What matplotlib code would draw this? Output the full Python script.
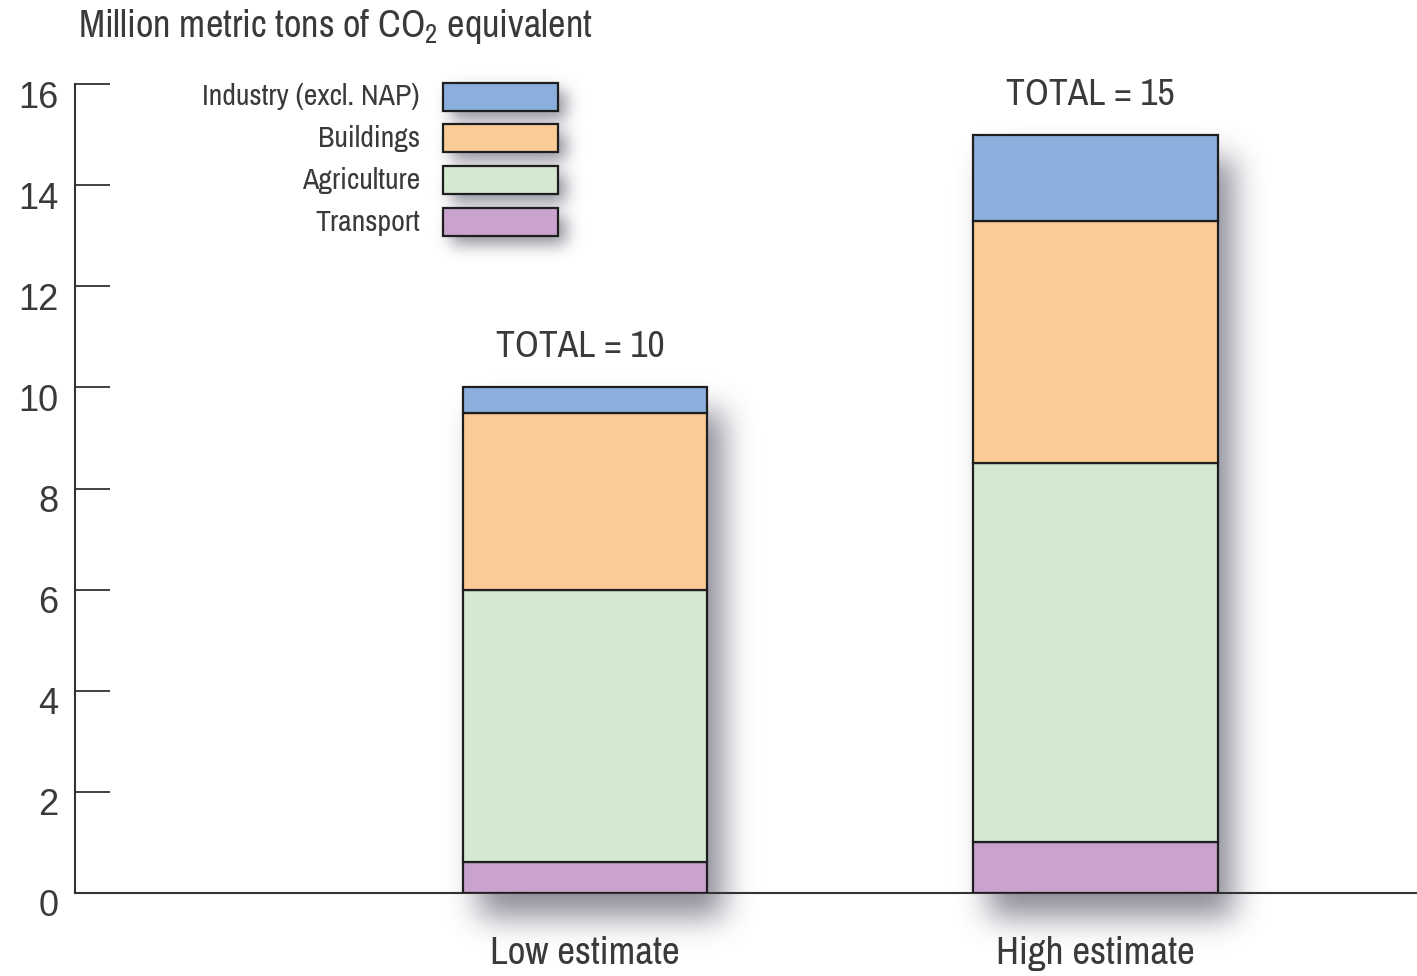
import math
import numpy as np
import matplotlib
matplotlib.use("Agg")
import matplotlib.pyplot as plt
from matplotlib.patches import Rectangle
import matplotlib.transforms as mtransforms

# data
estimates = ["Low estimate", "High estimate"]
sectors = ["Transport", "Agriculture", "Buildings", "Industry (excl. NAP)"]
transport = [0.62, 1.0]
agriculture = [5.38, 7.5]
buildings = [3.5, 4.8]
industry = [0.5, 1.7]
totals = [10, 15]
colors = ["#c9a3cd", "#d5e8d1", "#facb95", "#8aafdc"]

narrow = ["Liberation Sans Narrow", "Archivo Narrow", "DejaVu Sans"]
plt.rcParams["font.family"] = narrow
plt.rcParams["mathtext.fontset"] = "custom"
plt.rcParams["mathtext.rm"] = "Archivo Narrow"
txt = "#3a3a3a"

fig = plt.figure(figsize=(14.17, 9.76), dpi=100)
ax = fig.add_axes([75 / 1417, 1 - 893 / 976, 1 - 75 / 1417, (893 - 84) / 976], zorder=2)
ax.patch.set_alpha(0)
ax.set_xlim(-1.0, 1.631)
ax.set_ylim(0, 16)

x = np.arange(len(estimates))
width = 0.48
bottom = np.zeros(len(estimates))
layers = [transport, agriculture, buildings, industry]
for vals, c in zip(layers, colors):
    ax.bar(x, vals, width, bottom=bottom, color=c, edgecolor="#1e1e1e", linewidth=1.6, zorder=3)
    bottom += np.array(vals)

for xi, t in zip(x, totals):
    ax.text(xi - 0.01, t + 0.8, f"TOTAL = {t}", ha="center", va="center", fontsize=27, color=txt)

for s in ["top", "right"]:
    ax.spines[s].set_visible(False)
for s in ["left", "bottom"]:
    ax.spines[s].set_color("#333333")
    ax.spines[s].set_linewidth(1.5)

ax.set_yticks(range(0, 17, 2))
ax.tick_params(axis="y", direction="in", length=25, width=1.3, color="#333333", pad=12,
               labelsize=26, labelcolor=txt)
for lab in ax.get_yticklabels():
    lab.set_fontfamily(["Liberation Sans", "DejaVu Sans"])
    lab.set_transform(lab.get_transform() + mtransforms.ScaledTranslation(0, -10 / 100, fig.dpi_scale_trans))
ax.set_xticks(x)
ax.set_xticklabels(estimates)
ax.tick_params(axis="x", length=0, pad=31, labelsize=28, labelcolor=txt)

fig.text(78 / 1417, 1 - 27 / 976, r"Million metric tons of CO$_{\mathrm{2}}$ equivalent",
         ha="left", va="center", fontsize=27.5, color=txt)

# legend drawn by hand, top entry first
leg_y = [97, 138, 180, 222]
shadow_boxes = []
for yy, name, c in zip(leg_y, sectors[::-1], colors[::-1]):
    fig.text(420 / 1417, 1 - yy / 976, name, ha="right", va="center", fontsize=21.5, color=txt)
    r = Rectangle((443 / 1417, 1 - (yy + 14) / 976), 115 / 1417, 28 / 976, transform=fig.transFigure,
                  facecolor=c, edgecolor="#1e1e1e", linewidth=1.6, zorder=5)
    fig.patches.append(r)
    shadow_boxes.append((443, 976 - (yy + 14), 558, 976 - (yy - 14)))

# soft drop shadows behind bars and legend boxes
fig.canvas.draw()
boxes = list(shadow_boxes)
for xi, t in zip(x, totals):
    (x0, y0), (x1, y1) = ax.transData.transform([(xi - width / 2, 0), (xi + width / 2, t)])
    boxes.append((x0, y0, x1, y1))

W, H = 1417, 976
px = np.arange(W) + 0.5
py = np.arange(H) + 0.5
erf = np.vectorize(math.erf)
alpha = np.zeros((H, W))
for (x0, y0, x1, y1) in boxes:
    big = (y1 - y0) > 60
    dx, dy, s = (16, -24, 15) if big else (8, -8, 8)
    fx = 0.5 * (erf((px - x0 - dx) / (s * 1.414)) - erf((px - x1 - dx) / (s * 1.414)))
    fy = 0.5 * (erf((py - y0 - dy) / (s * 1.414)) - erf((py - y1 - dy) / (s * 1.414)))
    alpha += np.outer(fy, fx)
alpha = np.clip(alpha, 0, 1) * 0.62
img = np.zeros((H, W, 4))
img[..., 0] = 0.28
img[..., 1] = 0.28
img[..., 2] = 0.36
img[..., 3] = alpha
bg = fig.add_axes([0, 0, 1, 1], zorder=0)
bg.imshow(img, origin="lower", extent=(0, W, 0, H), aspect="auto", interpolation="bilinear")
bg.set_axis_off()

fig.savefig("out.png", dpi=100)
